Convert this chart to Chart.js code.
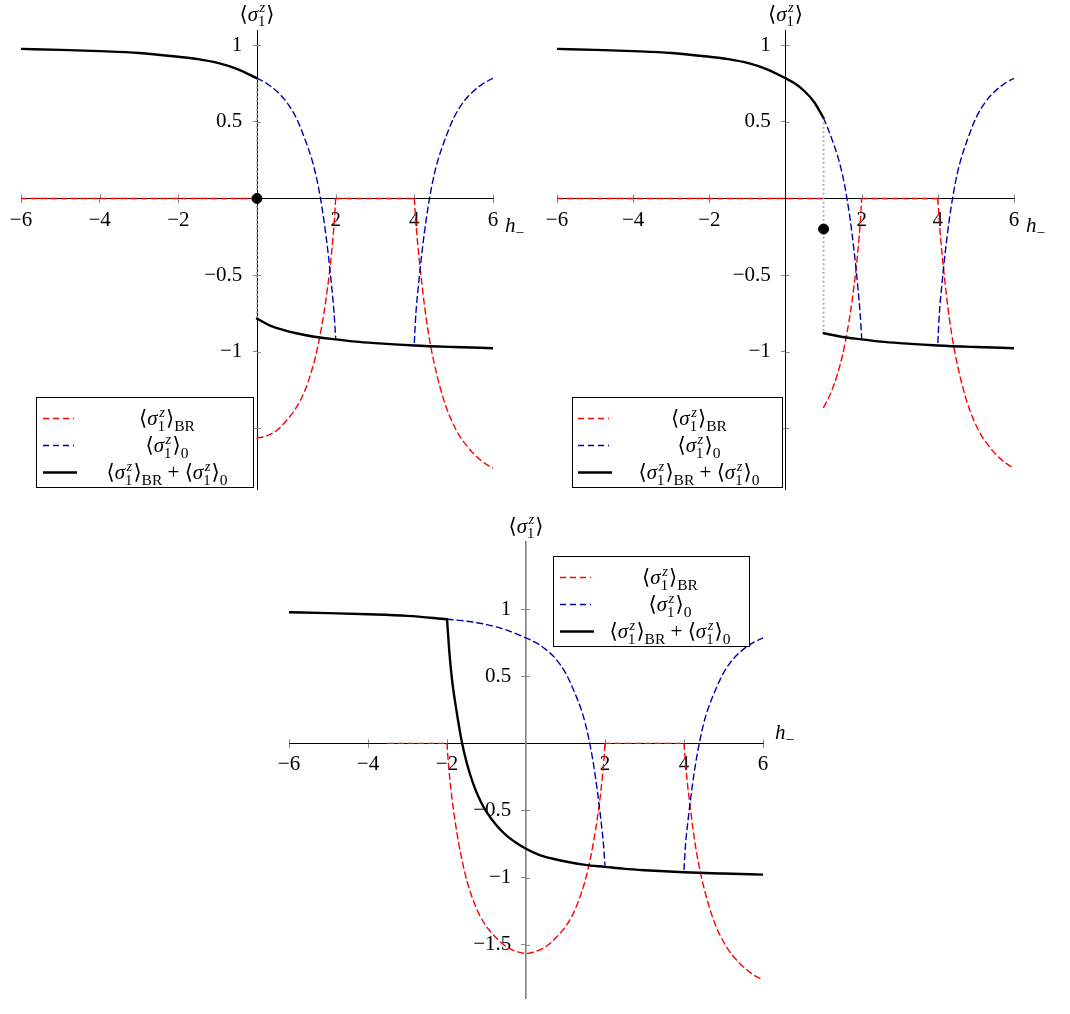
<!DOCTYPE html>
<html>
<head>
<meta charset="utf-8">
<script src="https://cdn.jsdelivr.net/npm/chart.js@4"></script>
<style>
  body { margin: 0; background: #fff; }
  #wrap { position: relative; width: 1070px; height: 1014px; }
  canvas { position: absolute; }
</style>
</head>
<body>
<div id="wrap">
  <canvas id="c1" width="530" height="505" style="left:0;top:0"></canvas>
  <canvas id="c2" width="535" height="505" style="left:535px;top:0"></canvas>
  <canvas id="c3" width="540" height="509" style="left:260px;top:505px"></canvas>
</div>
<script>
// tick values
const xTicks = [-6, -4, -2, 2, 4, 6];
const yTicks = [-1.5, -1, -0.5, 0.5, 1];

// <sigma>_0 : main branch and right branch
const hZero = [-6, -5, -4, -3, -2, -1.5, -1, -0.5, 0, 0.25, 0.5, 0.75, 1, 1.2, 1.4, 1.5, 1.6, 1.7, 1.8, 1.9, 1.96, 2];
const vZero = [0.977, 0.970, 0.962, 0.950, 0.925, 0.910, 0.885, 0.845, 0.785, 0.750, 0.700, 0.630, 0.525, 0.400, 0.250, 0.150, 0.020, -0.140, -0.340, -0.580, -0.750, -0.910];
const hZeroR = [4, 4.04, 4.1, 4.2, 4.3, 4.4, 4.5, 4.6, 4.8, 5, 5.25, 5.5, 5.75, 6];
const vZeroR = [-0.94, -0.75, -0.58, -0.34, -0.14, 0.02, 0.15, 0.25, 0.40, 0.525, 0.63, 0.70, 0.75, 0.785];

// <sigma>_BR : dip around 0 and right branch
const hBR = [-2, -1.97, -1.93, -1.87, -1.79, -1.7, -1.62, -1.5, -1.36, -1.2, -1, -0.75, -0.5, -0.25, 0, 0.25, 0.5, 0.75, 1, 1.2, 1.36, 1.5, 1.62, 1.7, 1.79, 1.87, 1.93, 1.97, 2];
const vBR = [0, -0.13, -0.26, -0.42, -0.59, -0.75, -0.87, -1.02, -1.15, -1.265, -1.365, -1.45, -1.515, -1.55, -1.565, -1.55, -1.515, -1.45, -1.365, -1.265, -1.15, -1.02, -0.87, -0.75, -0.59, -0.42, -0.26, -0.13, 0];
const hBRR = [4, 4.03, 4.08, 4.15, 4.22, 4.3, 4.42, 4.5, 4.63, 4.78, 4.93, 5.15, 5.35, 5.5, 5.69, 5.85, 6];
const vBRR = [0, -0.12, -0.28, -0.46, -0.62, -0.78, -0.97, -1.07, -1.21, -1.34, -1.44, -1.55, -1.62, -1.665, -1.71, -1.74, -1.76];

// <sigma>_BR + <sigma>_0 : lower branch
const hSum = [-2, -1.97, -1.94, -1.9, -1.85, -1.79, -1.72, -1.65, -1.58, -1.5, -1.4, -1.3, -1.2, -1.1, -1, -0.75, -0.5, -0.25, 0, 0.33, 0.66, 1, 1.5, 2, 2.5, 3, 4, 5, 6];
const vSum = [0.925, 0.80, 0.68, 0.55, 0.42, 0.30, 0.17, 0.05, -0.05, -0.145, -0.245, -0.33, -0.40, -0.46, -0.51, -0.61, -0.685, -0.74, -0.785, -0.83, -0.858, -0.88, -0.905, -0.92, -0.935, -0.945, -0.96, -0.97, -0.978];

// per panel: where the BR branch switches on, and where its zero line starts
const cuts = [0, 1, -2];
const brZeroFrom = [-6, -6, -3.5];
const dotH = [0, 1];
const dotV = [0, -0.2];

const FONT = '"Liberation Serif", "DejaVu Serif", serif';
const SIZE = 21;
const RED = '#ff0000', BLUE = '#0000aa';

function seg(hs, vs, a, b) {
  const out = [];
  hs.forEach((h, i) => { if (h >= a - 1e-9 && h <= b + 1e-9) out.push({ x: h, y: vs[i] }); });
  return out;
}
function valueAt(hs, vs, h) { return vs[hs.indexOf(h)]; }
function fmt(v) { return (v < 0 ? '\u2212' : '') + Math.abs(v); }
function fontFor(size, it) { return (it ? 'italic ' : '') + size + 'px ' + FONT; }

function sigma(sub) {
  const t = [{ t: '\u27E8' }, { t: '\u03C3', it: true }, { stack: ['z', '1'] }, { t: '\u27E9' }];
  if (sub) t.push({ t: sub, sc: 0.74, dy: 0.28 });
  return t;
}

function drawMath(ctx, toks, x, cy, size, align) {
  let total = 0;
  const items = toks.map(tok => {
    let w;
    if (tok.stack) {
      ctx.font = fontFor(size * 0.7, true);
      const w1 = ctx.measureText(tok.stack[0]).width + 1;
      ctx.font = fontFor(size * 0.7, false);
      w = Math.max(w1, ctx.measureText(tok.stack[1]).width) + 1;
    } else {
      ctx.font = fontFor(size * (tok.sc || 1), tok.it);
      w = ctx.measureText(tok.t).width;
    }
    total += w;
    return { tok, w };
  });
  let cx = align === 'center' ? x - total / 2 : x;
  const base = cy + size * 0.33;
  ctx.textAlign = 'left';
  ctx.textBaseline = 'alphabetic';
  items.forEach(({ tok, w }) => {
    if (tok.stack) {
      ctx.font = fontFor(size * 0.7, true);
      ctx.fillText(tok.stack[0], cx + 1.5, base - size * 0.42);
      ctx.font = fontFor(size * 0.7, false);
      ctx.fillText(tok.stack[1], cx, base + size * 0.25);
    } else {
      ctx.font = fontFor(size * (tok.sc || 1), tok.it);
      ctx.fillText(tok.t, cx, base + size * (tok.dy || 0));
    }
    cx += w;
  });
}

const legendRows = [
  { color: RED, width: 1.4, dash: [6, 4], len: 31, toks: sigma('BR') },
  { color: BLUE, width: 1.4, dash: [6, 4], len: 31, toks: sigma('0') },
  { color: '#000', width: 2.6, dash: [], len: 34, toks: sigma('BR').concat([{ t: ' + ' }], sigma('0')) }
];

const panels = [
  { id: 'c1', pad: { left: 21, right: 37, top: 30, bottom: 4 }, yMax: 1.1, yAxis: '#000',
    legend: { x: 36, y: 397, w: 217, h: 90, lx: 43, tx: 167 }, hDx: 12, hDy: 27 },
  { id: 'c2', pad: { left: 22, right: 56, top: 30, bottom: 4 }, yMax: 1.1, yAxis: '#000',
    legend: { x: 37, y: 397, w: 210, h: 90, lx: 43, tx: 164 }, hDx: 12, hDy: 27 },
  { id: 'c3', pad: { left: 29, right: 37, top: 37, bottom: 0 }, yMax: 1.5, yAxis: '#808080',
    legend: { x: 293, y: 51, w: 196, h: 90, lx: 300, tx: 410 }, hDx: 12, hDy: -11 }
];

function drawLegend(ctx, L) {
  ctx.save();
  ctx.fillStyle = '#fff';
  ctx.fillRect(L.x, L.y, L.w, L.h);
  ctx.strokeStyle = '#000';
  ctx.lineWidth = 1;
  ctx.setLineDash([]);
  ctx.strokeRect(L.x + 0.5, L.y + 0.5, L.w, L.h);
  legendRows.forEach((row, i) => {
    const cy = L.y + 21.5 + i * 27;
    ctx.strokeStyle = row.color;
    ctx.lineWidth = row.width;
    ctx.setLineDash(row.dash);
    ctx.beginPath();
    ctx.moveTo(L.lx, cy);
    ctx.lineTo(L.lx + row.len, cy);
    ctx.stroke();
    ctx.setLineDash([]);
    ctx.fillStyle = '#000';
    drawMath(ctx, row.toks, L.tx, cy, SIZE, 'center');
  });
  ctx.restore();
}

panels.forEach((p, k) => {
  const cut = cuts[k];
  const line = (data, color, width, dash) => ({
    data, showLine: true, borderColor: color, borderWidth: width, borderDash: dash,
    pointRadius: 0, cubicInterpolationMode: 'monotone', borderCapStyle: 'round', fill: false
  });
  const datasets = [];
  if (k < dotH.length) {
    datasets.push({ data: [{ x: dotH[k], y: dotV[k] }], showLine: false, pointRadius: 5,
      pointBackgroundColor: '#000', pointBorderColor: '#000' });
  }
  datasets.push(line(seg(hZero, vZero, -6, cut), '#000', 2.4, []));
  datasets.push(line(seg(hSum, vSum, cut, 6), '#000', 2.4, []));
  const top = valueAt(hZero, vZero, cut), bot = valueAt(hSum, vSum, cut);
  if (top !== bot) {
    const d = line([{ x: cut, y: top }, { x: cut, y: bot }], '#a8a8a8', 1.8, [1.8, 2.6]);
    d.cubicInterpolationMode = 'default';
    d.borderCapStyle = 'butt';
    datasets.push(d);
  }
  datasets.push(line(seg(hZero, vZero, cut, 2), BLUE, 1.4, [6, 4]));
  datasets.push(line(seg(hZeroR, vZeroR, 4, 6), BLUE, 1.4, [6, 4]));
  datasets.push(line([{ x: brZeroFrom[k], y: 0 }, { x: cut, y: 0 }], RED, 1.4, [6, 4]));
  datasets.push(line(seg(hBR, vBR, cut, 2), RED, 1.4, [6, 4]));
  datasets.push(line([{ x: hBR[hBR.length - 1], y: 0 }, { x: hBRR[0], y: 0 }], RED, 1.4, [6, 4]));
  datasets.push(line(seg(hBRR, vBRR, 4, 6), RED, 1.4, [6, 4]));

  const deco = {
    id: 'deco',
    beforeDatasetsDraw(chart) {
      // pgf-style ticks cross the axis: add the other half
      const ctx = chart.ctx;
      const xs = chart.scales.x, ys = chart.scales.y;
      const x0 = xs.getPixelForValue(0), y0 = ys.getPixelForValue(0);
      ctx.save();
      ctx.strokeStyle = '#888';
      ctx.lineWidth = 1;
      ctx.beginPath();
      xTicks.forEach(v => { const px = Math.round(xs.getPixelForValue(v)) + 0.5; ctx.moveTo(px, y0 - 4); ctx.lineTo(px, y0); });
      yTicks.forEach(v => { const py = Math.round(ys.getPixelForValue(v)) + 0.5; ctx.moveTo(x0, py); ctx.lineTo(x0 + 4, py); });
      ctx.stroke();
      ctx.restore();
    },
    afterDraw(chart) {
      const ctx = chart.ctx;
      const xs = chart.scales.x, ys = chart.scales.y;
      ctx.save();
      ctx.fillStyle = '#000';
      drawMath(ctx, sigma(null), xs.getPixelForValue(0), chart.chartArea.top - 16, SIZE, 'center');
      const hx = xs.getPixelForValue(6) + p.hDx, hy = ys.getPixelForValue(0) + p.hDy;
      drawMath(ctx, [{ t: 'h', it: true }, { t: '\u2212', sc: 0.74, dy: 0.28 }], hx, hy, SIZE, 'left');
      ctx.restore();
      drawLegend(ctx, p.legend);
    }
  };

  new Chart(document.getElementById(p.id), {
    type: 'scatter',
    data: { datasets },
    options: {
      responsive: false,
      animation: false,
      devicePixelRatio: 1,
      layout: { padding: p.pad },
      plugins: { legend: { display: false }, tooltip: { enabled: false } },
      scales: {
        x: {
          type: 'linear', position: { y: 0 }, min: -6, max: 6,
          afterBuildTicks: s => { s.ticks = xTicks.map(v => ({ value: v })); },
          ticks: { callback: fmt, color: '#000', font: { family: FONT, size: SIZE }, padding: 5, maxRotation: 0, autoSkip: false },
          grid: { drawOnChartArea: false, drawTicks: true, tickLength: 4, color: '#888' },
          border: { color: '#000', width: 1 }
        },
        y: {
          type: 'linear', position: { x: 0 }, min: -1.9, max: p.yMax,
          afterBuildTicks: s => { s.ticks = yTicks.map(v => ({ value: v })); },
          ticks: { callback: v => fmt(v) + '  \u2009', color: '#000', font: { family: FONT, size: SIZE }, padding: 3, autoSkip: false },
          grid: { drawOnChartArea: false, drawTicks: true, tickLength: 4, color: '#888' },
          border: { color: p.yAxis, width: k === 2 ? 1.6 : 1 }
        }
      }
    },
    plugins: [deco]
  });
});
</script>
</body>
</html>
